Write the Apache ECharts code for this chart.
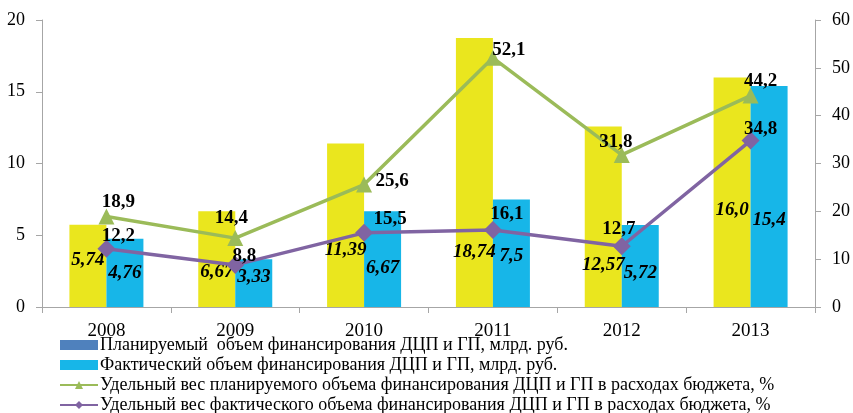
<!DOCTYPE html>
<html lang="ru">
<head>
    <meta charset="UTF-8">
    <title>Финансирование ДЦП и ГП</title>
    <script src="https://cdn.jsdelivr.net/npm/echarts@6/dist/echarts.min.js"></script>
    <style>
        html, body { margin: 0; padding: 0; background: #fff; }
        #chart { width: 853px; height: 413px; }
    </style>
</head>
<body>
<div id="chart"></div>
<script>
    // данные
    var years = ['2008', '2009', '2010', '2011', '2012', '2013'];
    var planValues = [5.74, 6.67, 11.39, 18.74, 12.57, 16.0];   // млрд. руб.
    var factValues = [4.76, 3.33, 6.67, 7.5, 5.72, 15.4];       // млрд. руб.
    var planShare = [18.9, 14.4, 25.6, 52.1, 31.8, 44.2];       // %
    var factShare = [12.2, 8.8, 15.5, 16.1, 12.7, 34.8];        // %
    var leftTicks = [0, 5, 10, 15, 20];
    var rightTicks = [0, 10, 20, 30, 40, 50, 60];

    var seriesNames = [
        'Планируемый  объем финансирования ДЦП и ГП, млрд. руб.',
        'Фактический объем финансирования ДЦП и ГП, млрд. руб.',
        'Удельный вес планируемого объема финансирования ДЦП и ГП в расходах бюджета, %',
        'Удельный вес фактического объема финансирования ДЦП и ГП в расходах бюджета, %'
    ];

    // раскладка подписей (только положение, не данные)
    var planLabelLift = [37, 25, 47, 45, 32, 87];
    var factLabelLift = [24, 20, 29, 41, 24, 77];
    var planShareShift = [[12, -15], [-4, -20], [28, -3], [16, -8], [-6, -13], [10, -14]];
    var factShareShift = [[12, -13], [9, -9], [26, -14], [14, -16], [-3, -17], [10, -11]];

    var FONT = '"Liberation Serif", "Times New Roman", serif';

    function fmt(v) {
        return String(v).replace('.', ',');
    }
    function fmtBar(v) {
        var s = (Math.round(v * 100) / 100).toString();
        if (s.indexOf('.') < 0 && v >= 10) s = s + '.0';
        return s.replace('.', ',');
    }

    function barData(vals, lifts) {
        return vals.map(function (v, i) {
            return { value: v, label: { distance: lifts[i] } };
        });
    }
    function lineData(vals, shifts) {
        return vals.map(function (v, i) {
            return { value: v, label: { offset: shifts[i] } };
        });
    }

    var chart = echarts.init(document.getElementById('chart'));
    chart.setOption({
        animation: false,
        textStyle: { fontFamily: FONT },
        grid: { left: 42, right: 38, top: 20, bottom: 106 },
        legend: {
            orient: 'vertical',
            left: 54,
            top: 331,
            height: 200,
            itemGap: 2,
            itemWidth: 38,
            itemHeight: 10,
            textStyle: { fontFamily: FONT, fontSize: 18, color: '#000', padding: [0, 0, 0, -3] },
            data: [
                { name: seriesNames[0], icon: 'rect', itemStyle: { color: '#4F81BD' } },
                { name: seriesNames[1], icon: 'rect' },
                { name: seriesNames[2] },
                { name: seriesNames[3] }
            ]
        },
        xAxis: {
            type: 'category',
            data: years,
            axisLine: { lineStyle: { color: '#A6A6A6' } },
            axisTick: { show: true, length: 6, lineStyle: { color: '#A6A6A6' } },
            axisLabel: { color: '#000', fontFamily: FONT, fontSize: 19, margin: 15 },
            splitLine: { show: false }
        },
        yAxis: [
            {
                type: 'value',
                min: leftTicks[0],
                max: leftTicks[leftTicks.length - 1],
                interval: 5,
                axisLine: { show: true, lineStyle: { color: '#A6A6A6' } },
                axisTick: { show: true, length: 6, lineStyle: { color: '#A6A6A6' } },
                axisLabel: { color: '#000', fontFamily: FONT, fontSize: 18, margin: 17 },
                splitLine: { show: false }
            },
            {
                type: 'value',
                min: rightTicks[0],
                max: rightTicks[rightTicks.length - 1],
                interval: 10,
                position: 'right',
                axisLine: { show: true, lineStyle: { color: '#A6A6A6' } },
                axisTick: { show: true, length: 6, lineStyle: { color: '#A6A6A6' } },
                axisLabel: { color: '#000', fontFamily: FONT, fontSize: 18, margin: 17 },
                splitLine: { show: false }
            }
        ],
        series: [
            {
                name: seriesNames[0],
                type: 'bar',
                yAxisIndex: 0,
                barWidth: 37,
                barGap: '0%',
                itemStyle: { color: '#EAE61E' },
                label: {
                    show: true,
                    position: 'insideBottom',
                    color: '#000',
                    fontFamily: FONT,
                    fontSize: 19,
                    fontWeight: 'bold',
                    fontStyle: 'italic',
                    formatter: function (p) { return fmtBar(p.value); }
                },
                z: 2,
                data: barData(planValues, planLabelLift)
            },
            {
                name: seriesNames[1],
                type: 'bar',
                yAxisIndex: 0,
                barWidth: 37,
                barGap: '0%',
                itemStyle: { color: '#17B6E8' },
                label: {
                    show: true,
                    position: 'insideBottom',
                    color: '#000',
                    fontFamily: FONT,
                    fontSize: 19,
                    fontWeight: 'bold',
                    fontStyle: 'italic',
                    formatter: function (p) { return fmtBar(p.value); }
                },
                z: 2,
                data: barData(factValues, factLabelLift)
            },
            {
                name: seriesNames[2],
                type: 'line',
                yAxisIndex: 1,
                symbol: 'triangle',
                symbolSize: 16,
                itemStyle: { color: '#9BBB59' },
                lineStyle: { color: '#9BBB59', width: 3.5 },
                label: {
                    show: true,
                    position: 'inside',
                    color: '#000',
                    fontFamily: FONT,
                    fontSize: 19,
                    fontWeight: 'bold',
                    formatter: function (p) { return fmt(p.value); }
                },
                z: 5,
                data: lineData(planShare, planShareShift)
            },
            {
                name: seriesNames[3],
                type: 'line',
                yAxisIndex: 1,
                symbol: 'diamond',
                symbolSize: 18,
                itemStyle: { color: '#8064A2' },
                lineStyle: { color: '#8064A2', width: 3.5 },
                label: {
                    show: true,
                    position: 'inside',
                    color: '#000',
                    fontFamily: FONT,
                    fontSize: 19,
                    fontWeight: 'bold',
                    formatter: function (p) { return fmt(p.value); }
                },
                z: 5,
                data: lineData(factShare, factShareShift)
            }
        ]
    });
</script>
</body>
</html>
